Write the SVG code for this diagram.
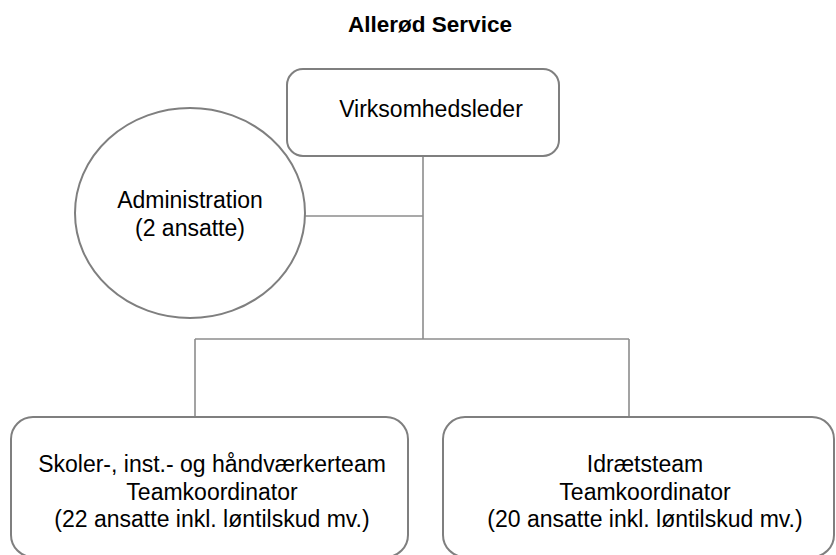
<svg xmlns="http://www.w3.org/2000/svg" width="836" height="555" viewBox="0 0 836 555">
<style>
.box{fill:#fff;stroke:#7f7f7f;stroke-width:2}
.ln{stroke:#8c8c8c;stroke-width:1.6;fill:none}
text{font-family:"Liberation Sans",Arial,sans-serif;font-size:23px;fill:#000;text-anchor:middle}
.title{font-weight:bold;font-size:22.5px}
</style>
<rect width="836" height="555" fill="#fff"/>
<text class="title" x="430" y="32">Allerød Service</text>
<g id="connectors">
<line class="ln" x1="423" y1="156" x2="423" y2="339"/>
<line class="ln" x1="305" y1="216" x2="423" y2="216"/>
<line class="ln" x1="195" y1="339" x2="629" y2="339"/>
<line class="ln" x1="195" y1="339" x2="195" y2="417"/>
<line class="ln" x1="629" y1="339" x2="629" y2="417"/>
</g>
<g id="virksomhedsleder">
<rect class="box" x="287" y="69" width="272" height="87" rx="16"/>
<text x="431" y="117">Virksomhedsleder</text>
</g>
<g id="administration">
<ellipse class="box" cx="190" cy="213" rx="115" ry="105"/>
<text x="190" y="208">Administration</text>
<text x="190" y="236">(2 ansatte)</text>
</g>
<g id="skoleteam">
<rect class="box" x="11" y="417" width="397" height="140" rx="22"/>
<text x="212" y="472">Skoler-, inst.- og håndværkerteam</text>
<text x="212" y="500">Teamkoordinator</text>
<text x="212" y="527">(22 ansatte inkl. løntilskud mv.)</text>
</g>
<g id="idraetsteam">
<rect class="box" x="443" y="417" width="391" height="140" rx="22"/>
<text x="645" y="472">Idrætsteam</text>
<text x="645" y="500">Teamkoordinator</text>
<text x="645" y="527">(20 ansatte inkl. løntilskud mv.)</text>
</g>
</svg>
